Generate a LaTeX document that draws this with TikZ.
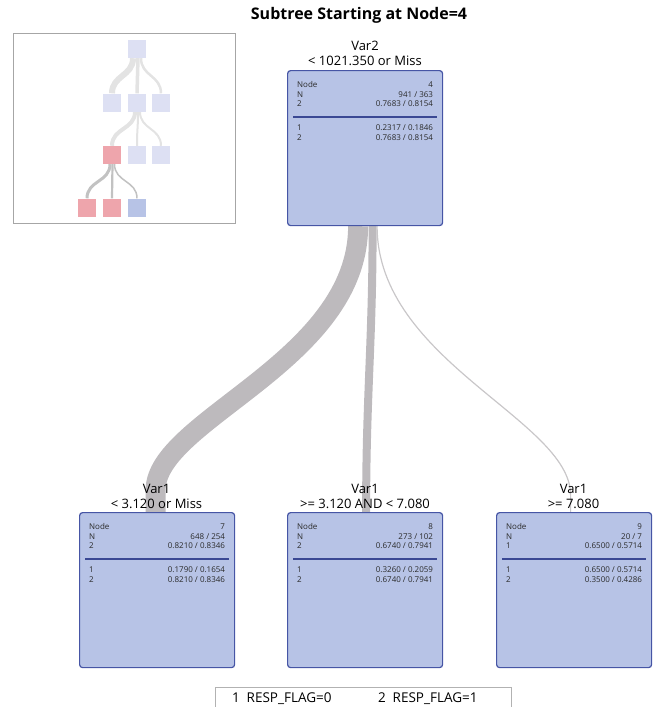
\documentclass[tikz,border=0pt]{standalone}
\usepackage{fontspec}
\setmainfont{Open Sans}
\usetikzlibrary{backgrounds}
\definecolor{boxfill}{HTML}{B7C3E6}
\definecolor{boxline}{HTML}{4655A5}
\definecolor{divline}{HTML}{3A4894}
\definecolor{band}{HTML}{BDBABD}
\definecolor{thinband}{HTML}{C9C7C9}
\definecolor{minilight}{HTML}{DDE0F3}
\definecolor{minired}{HTML}{EEA5AC}
\definecolor{miniblue}{HTML}{B7C3E6}
\definecolor{miniedge}{HTML}{E3E3E3}
\definecolor{miniedgedark}{HTML}{C2C2C2}
\definecolor{txtgray}{HTML}{2A2A2A}
\tikzset{
  treebox/.style={draw=boxline, fill=boxfill, rounded corners=3pt, line width=1.2pt,
    minimum width=155pt, minimum height=155pt, inner sep=0pt},
  smalltxt/.style={font=\fontsize{8}{9}\selectfont, text=txtgray, inner sep=0pt},
  lbl/.style={font=\fontsize{13}{15}\selectfont, text=black, inner sep=0pt},
  divider/.style={draw=divline, line width=1.3pt},
  flow/.style={draw=band, line cap=butt},
  minisq/.style={minimum size=18pt, inner sep=0pt, draw=none},
  ie/.style={draw=miniedge, line cap=butt},
  iedark/.style={draw=miniedgedark, line cap=butt},
}
\newcommand\mkbox[9]{%
  \node[treebox, anchor=north west] (#1) at (#2,#3) {};
  \node[smalltxt, anchor=base west] (#1-a) at ([xshift=10pt,yshift=-17.5pt]#1.north west) {Node};
  \node[smalltxt, anchor=base west] (#1-b) at ([xshift=10pt,yshift=-27pt]#1.north west) {N};
  \node[smalltxt, anchor=base west] (#1-c) at ([xshift=10pt,yshift=-36.5pt]#1.north west) {#6};
  \node[smalltxt, anchor=base west] (#1-d) at ([xshift=10pt,yshift=-60.5pt]#1.north west) {1};
  \node[smalltxt, anchor=base west] (#1-e) at ([xshift=10pt,yshift=-70pt]#1.north west) {2};
  \node[smalltxt, anchor=base east] (#1-f) at ([xshift=-10pt,yshift=-17.5pt]#1.north east) {#4};
  \node[smalltxt, anchor=base east] (#1-g) at ([xshift=-10pt,yshift=-27pt]#1.north east) {#5};
  \node[smalltxt, anchor=base east] (#1-h) at ([xshift=-10pt,yshift=-36.5pt]#1.north east) {#7};
  \node[smalltxt, anchor=base east] (#1-i) at ([xshift=-10pt,yshift=-60.5pt]#1.north east) {#8};
  \node[smalltxt, anchor=base east] (#1-j) at ([xshift=-10pt,yshift=-70pt]#1.north east) {#9};
  \path[divider] ([xshift=6pt,yshift=-47pt]#1.north west) -- ([xshift=-6pt,yshift=-47pt]#1.north east);
}
\begin{document}
\begin{tikzpicture}[x=1pt,y=-1pt]
\useasboundingbox (0,0) rectangle (656,707);

% title
\node[font=\fontsize{16}{18}\selectfont\bfseries, inner sep=0pt] (title) at (359,15) {Subtree Starting at Node=4};

% main boxes
\mkbox{n4}{287}{70}{4}{941 / 363}{2}{0.7683 / 0.8154}{0.2317 / 0.1846}{0.7683 / 0.8154}
\mkbox{n7}{79}{512}{7}{648 / 254}{2}{0.8210 / 0.8346}{0.1790 / 0.1654}{0.8210 / 0.8346}
\mkbox{n8}{287}{512}{8}{273 / 102}{2}{0.6740 / 0.7941}{0.3260 / 0.2059}{0.6740 / 0.7941}
\mkbox{n9}{496}{512}{9}{20 / 7}{1}{0.6500 / 0.5714}{0.6500 / 0.5714}{0.3500 / 0.4286}

% split labels
\node[lbl] (n4-var) at (365,46) {Var2};
\node[lbl] (n4-cond) at (365,61) {< 1021.350 or Miss};
\node[lbl] (n7-var) at (156.5,489) {Var1};
\node[lbl] (n7-cond) at (156.5,504) {< 3.120 or Miss};
\node[lbl] (n8-var) at (365,489) {Var1};
\node[lbl] (n8-cond) at (365,504) {>= 3.120 AND < 7.080};
\node[lbl] (n9-var) at (573.5,489) {Var1};
\node[lbl] (n9-cond) at (573.5,504) {>= 7.080};

% connectors
\begin{pgfonlayer}{background}
\path[flow, line width=20pt] ([xshift=-7pt]n4.south) .. controls +(0,135) and +(0,-70) .. ([xshift=-1.5pt,yshift=22pt]n7.north) -- ([xshift=-1.5pt]n7.north);
\path[flow, line width=8pt] ([xshift=7.5pt]n4.south) .. controls +(0,120) and +(0,-120) .. ([xshift=1pt]n8.north);
\path[draw=thinband, line width=1.2pt] ([xshift=12pt]n4.south) .. controls +(0,135) and +(0,-75) .. ([xshift=-3.5pt,yshift=17pt]n9.north) -- ([xshift=-3.5pt]n9.north);
\end{pgfonlayer}

% inset overview
\node[draw=gray!70, line width=1.2pt, minimum width=222pt, minimum height=190pt, inner sep=0pt, anchor=north west] (frame) at (13,33) {};
\node[minisq, fill=minilight] (r) at (137,49) {};
\node[minisq, fill=minilight] (a1) at (112,102.5) {};
\node[minisq, fill=minilight] (a2) at (137,102.5) {};
\node[minisq, fill=minilight] (a3) at (161,102.5) {};
\node[minisq, fill=minired] (b1) at (112,155) {};
\node[minisq, fill=minilight] (b2) at (137,155) {};
\node[minisq, fill=minilight] (b3) at (161,155) {};
\node[minisq, fill=minired] (c1) at (87,207.5) {};
\node[minisq, fill=minired] (c2) at (112,207.5) {};
\node[minisq, fill=miniblue] (c3) at (137,207.5) {};
\begin{pgfonlayer}{background}
\path[ie, line width=6pt] ([xshift=-4pt]r.south) .. controls +(0,18) and +(0,-18) .. (a1.north);
\path[ie, line width=3.5pt] ([xshift=1pt]r.south) .. controls +(0,18) and +(0,-18) .. (a2.north);
\path[ie, line width=2.5pt] ([xshift=4pt]r.south) .. controls +(0,18) and +(0,-18) .. (a3.north);
\path[ie, line width=4pt] ([xshift=-2pt]a2.south) .. controls +(0,18) and +(0,-18) .. (b1.north);
\path[ie, line width=2pt] ([xshift=1pt]a2.south) .. controls +(0,18) and +(0,-18) .. (b2.north);
\path[ie, line width=2pt] ([xshift=3pt]a2.south) .. controls +(0,18) and +(0,-18) .. (b3.north);
\path[iedark, line width=3pt] ([xshift=-2pt]b1.south) .. controls +(0,18) and +(0,-18) .. (c1.north);
\path[iedark, line width=2.2pt] ([xshift=0.5pt]b1.south) .. controls +(0,18) and +(0,-18) .. (c2.north);
\path[iedark, line width=1.5pt] ([xshift=2.5pt]b1.south) .. controls +(0,18) and +(0,-18) .. (c3.north);
\end{pgfonlayer}

% legend
\node[font=\fontsize{13.5}{15}\selectfont, inner sep=0pt, anchor=base west] (leg1) at (232,702) {1\enspace RESP\_FLAG=0};
\node[font=\fontsize{13.5}{15}\selectfont, inner sep=0pt, anchor=base west] (leg2) at (378,702) {2\enspace RESP\_FLAG=1};
\coordinate (legtl) at (215,687);
\coordinate (legtr) at (511,687);
\draw[gray!60, line width=1pt] (legtl |- 0,707) -- (legtl) -- (legtr) -- (legtr |- 0,707);
\end{tikzpicture}
\end{document}
